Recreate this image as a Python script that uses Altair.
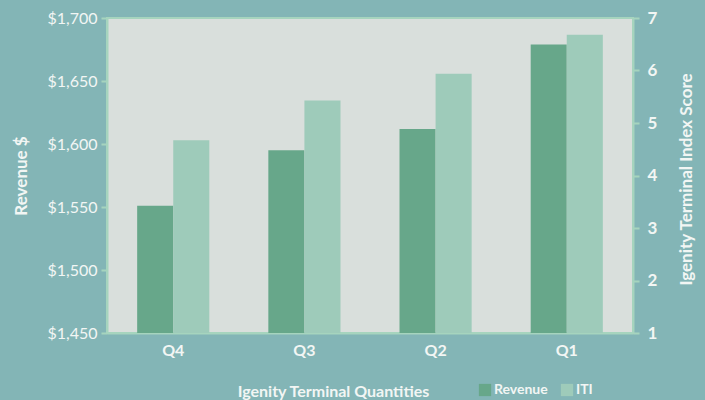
import altair as alt
import pandas as pd

quarters = ["Q4", "Q3", "Q2", "Q1"]
revenue = [1551, 1595, 1612, 1679]
iti = [4.67, 5.43, 5.94, 6.68]
series = ["Revenue", "ITI"]
colors = ["#67a78a", "#9ecbba"]

rev_df = pd.DataFrame({"Quarter": quarters, "value": revenue, "Series": "Revenue"})
iti_df = pd.DataFrame({"Quarter": quarters, "value": iti, "Series": "ITI"})

FONT = "Lato"
TXT = "#f2f6f4"
LINE = "#a6d4be"

x_enc = alt.X("Quarter:N", sort=quarters,
              scale=alt.Scale(paddingInner=0.45, paddingOuter=0.23),
              axis=alt.Axis(title="Igenity Terminal Quantities", labelAngle=0,
                            labelFontWeight="bold", labelFontSize=16, labelPadding=9,
                            ticks=False, domainColor=LINE, domainWidth=2,
                            titleX=226, titleY=63, titleBaseline="alphabetic",
                            titleAlign="center", titleFontSize=16))
xo_enc = alt.XOffset("Series:N", scale=alt.Scale(domain=series))
color_enc = alt.Color("Series:N", scale=alt.Scale(domain=series, range=colors),
                      legend=alt.Legend(title=None, orient="none", legendX=371, legendY=365,
                                        direction="horizontal", symbolType="square",
                                        symbolSize=150, symbolStrokeWidth=0, symbolOpacity=1,
                                        labelFontSize=14, labelFontWeight="bold",
                                        labelColor=TXT, labelOffset=2, columnPadding=12,
                                        labelFont=FONT))

rev = alt.Chart(rev_df).mark_bar(opacity=1, clip=True).encode(
    x=x_enc, xOffset=xo_enc, color=color_enc,
    y=alt.Y("value:Q", scale=alt.Scale(domain=[1450, 1700], zero=False, nice=False),
            axis=alt.Axis(title="Revenue $", values=[1450, 1500, 1550, 1600, 1650, 1700],
                          format="$,.0f", grid=False, orient="left",
                          labelFontSize=16, labelFontWeight="normal", labelPadding=4,
                          tickSize=6, tickColor=LINE, tickWidth=2,
                          domainColor=LINE, domainWidth=2,
                          titleFontSize=17, titlePadding=16)),
)
itic = alt.Chart(iti_df).mark_bar(opacity=1, clip=True).encode(
    x=x_enc, xOffset=xo_enc, color=color_enc,
    y=alt.Y("value:Q", scale=alt.Scale(domain=[1, 7], zero=False, nice=False),
            axis=alt.Axis(title="Igenity Terminal Index Score", values=[1, 2, 3, 4, 5, 6, 7],
                          format="d", grid=False, orient="right",
                          labelFontSize=17, labelFontWeight="bold", labelPadding=8,
                          tickSize=6, tickColor=LINE, tickWidth=2,
                          domainColor=LINE, domainWidth=2, titleAngle=270,
                          titleX=53, titleY=161, titleBaseline="middle", titleAlign="center",
                          titleFontSize=17)),
)

chart = alt.layer(rev, itic).resolve_scale(y="independent").properties(
    width=526, height=315,
    autosize=alt.AutoSizeParams(type="none"),
    padding={"left": 107, "top": 18, "right": 72, "bottom": 67},
    background="#83b5b6",
).configure_view(fill="#d9dfdc", stroke=LINE, strokeWidth=2).configure_axis(
    labelFont=FONT, titleFont=FONT, labelColor=TXT, titleColor=TXT,
    titleFontWeight="bold",
).configure_legend(labelFont=FONT)

chart.save("out.html", embed_options={"renderer": "svg", "actions": False})
